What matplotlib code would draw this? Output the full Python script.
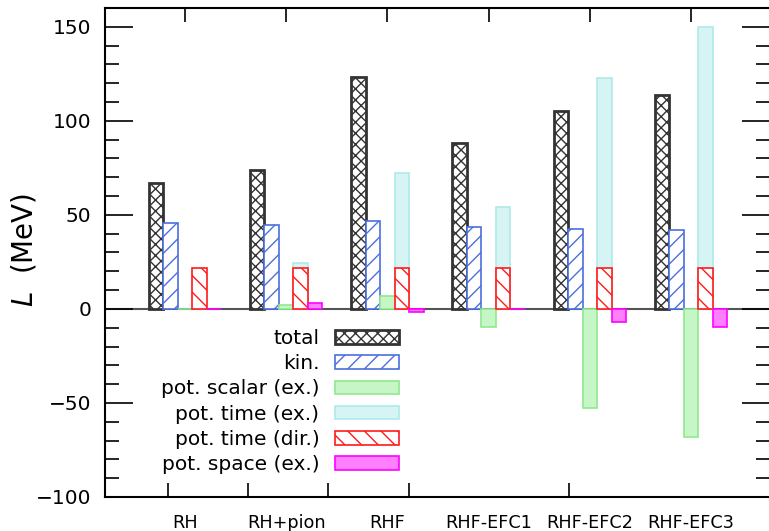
import matplotlib.pyplot as plt
import numpy as np
from matplotlib.ticker import MultipleLocator

# models and the pieces of L (MeV)
models = ['RH', 'RH+pion', 'RHF', 'RHF-EFC1', 'RHF-EFC2', 'RHF-EFC3']
total = [67.1, 73.9, 123.4, 88.0, 105.4, 113.5]
kin = [45.5, 44.6, 46.6, 43.7, 42.3, 41.8]
pot_scalar_ex = [0.0, 2.1, 6.9, -9.7, -52.8, -68.2]
pot_time_ex = [0.0, 24.6, 72.1, 54.0, 122.6, 149.7]
pot_time_dir = [21.6, 21.6, 21.6, 21.6, 21.6, 21.6]
pot_space_ex = [0.0, 3.0, -1.4, 0.0, -6.7, -9.4]

# odd bottom tick marks (not aligned with groups in the original)
bottom_ticks = [-0.17, 0.62, 1.41, 2.21, 3.00, 3.79]

plt.rcParams['font.family'] = 'DejaVu Sans'
plt.rcParams['hatch.linewidth'] = 1.0

fig = plt.figure(figsize=(7.69, 5.31), dpi=100)
ax = fig.add_axes([105 / 769, 1 - 497 / 531, 665 / 769, 489 / 531])

x = np.arange(len(models))
w = 0.143

# (values, offset, label, face, edge, hatch, lw)
series = [
    (total, -2, 'total', 'white', '#333333', 'xxx', 2.0),
    (kin, -1, 'kin.', 'white', '#4a6fe0', '//', 1.2),
    (pot_scalar_ex, 0, 'pot. scalar (ex.)', '#c6f5c6', '#90e890', None, 1.2),
    (pot_time_ex, 1, 'pot. time (ex.)', '#d6f4f4', '#aeeaea', None, 1.2),
    (pot_time_dir, 1, 'pot. time (dir.)', 'white', '#ff1a1a', '\\\\', 1.2),
    (pot_space_ex, 2, 'pot. space (ex.)', '#ff80ff', '#ff00ff', None, 1.2),
]

ax.axhline(0, color='#555555', lw=1.5, zorder=1)

for vals, off, label, fc, ec, hatch, lw in series:
    ax.bar(x + off * w, vals, width=w, facecolor=fc, edgecolor=ec,
           hatch=hatch, linewidth=lw, label=label, zorder=2)

ax.set_xlim(-0.79, 5.78)
ax.set_ylim(-100, 160)

ax.yaxis.set_major_locator(MultipleLocator(50))
ax.yaxis.set_minor_locator(MultipleLocator(10))
ax.tick_params(axis='y', which='major', direction='in', length=20, width=1.2,
               left=True, right=True, labelsize=14.5, pad=10)
ax.tick_params(axis='y', which='minor', direction='in', length=10, width=1.2,
               left=True, right=True)

# group labels at the bottom, tick marks at top
ax.set_xticks(x)
ax.set_xticklabels(models)
ax.set_xticks(bottom_ticks, minor=True)
ax.tick_params(axis='x', which='major', length=0, labelsize=12.7, pad=12)
ax.tick_params(axis='x', which='minor', direction='in', length=10, width=1.2,
               bottom=True, top=False)
top = ax.secondary_xaxis('top')
top.set_xticks(x)
top.set_xticklabels([])
top.tick_params(direction='in', length=10, width=1.2)
top.spines['top'].set_visible(False)

for s in ax.spines.values():
    s.set_linewidth(1.5)

fig.text(24 / 769, 1 - 250 / 531, r'$L$  (MeV)', rotation=90,
         ha='center', va='center', fontsize=20)

ax.legend(loc='upper right', bbox_to_anchor=(399 / 769, 1 - 329 / 531),
          bbox_transform=fig.transFigure, frameon=False, markerfirst=False,
          fontsize=14.5, handlelength=3.2, handleheight=0.65,
          handletextpad=0.75, labelspacing=0.31, borderpad=0, borderaxespad=0)

fig.savefig('out.png', dpi=100)
